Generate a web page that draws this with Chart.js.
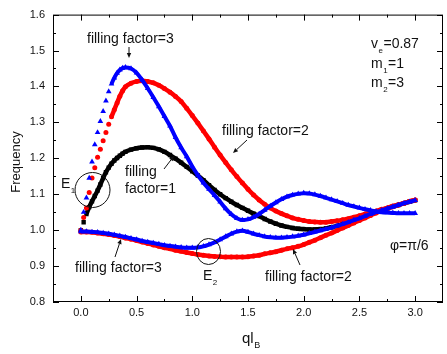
<!DOCTYPE html>
<html>
<head>
<meta charset="utf-8">
<script src="https://cdn.jsdelivr.net/npm/chart.js@4.4.1/dist/chart.umd.min.js"></script>
<style>
  html, body { margin: 0; padding: 0; background: #fff; }
  #wrap { width: 447px; height: 354px; }
</style>
</head>
<body>
<div id="wrap"><canvas id="chart" width="447" height="354"></canvas></div>
<script>
// ql_B grid for the upper branches (finer where the curves rise steeply)
const qFine = [0, 0.025, 0.05, 0.075, 0.1, 0.125, 0.15, 0.175, 0.2, 0.225, 0.25, 0.275, 0.3, 0.325, 0.35, 0.375, 0.4,
  0.45, 0.5, 0.55, 0.6, 0.65, 0.7, 0.75, 0.8, 0.85, 0.9, 0.95, 1.0,
  1.05, 1.1, 1.15, 1.2, 1.25, 1.3, 1.35, 1.4, 1.45, 1.5, 1.55, 1.6, 1.65, 1.7, 1.75, 1.8, 1.85, 1.9, 1.95, 2.0,
  2.05, 2.1, 2.15, 2.2, 2.25, 2.3, 2.35, 2.4, 2.45, 2.5, 2.55, 2.6, 2.65, 2.7, 2.75, 2.8, 2.85, 2.9, 2.95, 3.0];

// ql_B grid for the lower branches
const qGrid = [0, 0.05, 0.1, 0.15, 0.2, 0.25, 0.3, 0.35, 0.4, 0.45, 0.5, 0.55, 0.6, 0.65, 0.7, 0.75, 0.8, 0.85, 0.9, 0.95, 1.0,
  1.05, 1.1, 1.15, 1.2, 1.25, 1.3, 1.35, 1.4, 1.45, 1.5, 1.55, 1.6, 1.65, 1.7, 1.75, 1.8, 1.85, 1.9, 1.95, 2.0,
  2.05, 2.1, 2.15, 2.2, 2.25, 2.3, 2.35, 2.4, 2.45, 2.5, 2.55, 2.6, 2.65, 2.7, 2.75, 2.8, 2.85, 2.9, 2.95, 3.0];

// filling factor = 3, upper branch (blue triangles)
const ff3Upper = [1.000, 1.050, 1.090, 1.145, 1.190, 1.238, 1.272, 1.303, 1.331, 1.360, 1.386, 1.407, 1.424, 1.437, 1.446, 1.451, 1.453,
  1.450, 1.438, 1.418, 1.395, 1.370, 1.344, 1.317, 1.290, 1.258, 1.230, 1.205, 1.177,
  1.153, 1.132, 1.114, 1.097, 1.079, 1.060, 1.044, 1.033, 1.028, 1.030, 1.036, 1.045, 1.056, 1.067, 1.077, 1.086, 1.093, 1.098, 1.101, 1.103,
  1.102, 1.099, 1.095, 1.090, 1.085, 1.080, 1.075, 1.070, 1.066, 1.062, 1.058, 1.055, 1.052, 1.050, 1.049, 1.048, 1.047, 1.047, 1.047, 1.047];

// filling factor = 2, upper branch (red circles)
const ff2Upper = [1.000, 1.035, 1.062, 1.105, 1.145, 1.174, 1.203, 1.225, 1.249, 1.272, 1.295, 1.316, 1.335, 1.354, 1.373, 1.388, 1.399,
  1.409, 1.414, 1.416, 1.414, 1.410, 1.403, 1.394, 1.384, 1.372, 1.358, 1.339, 1.319,
  1.298, 1.276, 1.254, 1.231, 1.209, 1.188, 1.168, 1.149, 1.131, 1.114, 1.098, 1.084, 1.072, 1.062, 1.053, 1.046, 1.040, 1.034, 1.030, 1.027,
  1.024, 1.023, 1.022, 1.022, 1.024, 1.026, 1.029, 1.032, 1.036, 1.040, 1.045, 1.049, 1.053, 1.058, 1.062, 1.067, 1.071, 1.075, 1.080, 1.084];

// filling factor = 1 (black squares)
const ff1 = [1.000, 1.022, 1.045, 1.064, 1.080, 1.095, 1.110, 1.127, 1.145, 1.161, 1.174, 1.185, 1.194, 1.201, 1.207, 1.213, 1.218,
  1.224, 1.228, 1.230, 1.231, 1.229, 1.225, 1.218, 1.209, 1.199, 1.188, 1.176, 1.164,
  1.152, 1.139, 1.125, 1.112, 1.100, 1.089, 1.079, 1.070, 1.062, 1.054, 1.046, 1.039, 1.031, 1.024, 1.018, 1.013, 1.009, 1.006, 1.004, 1.003,
  1.002, 1.002, 1.003, 1.005, 1.008, 1.012, 1.017, 1.022, 1.028, 1.034, 1.040, 1.046, 1.051, 1.056, 1.061, 1.066, 1.070, 1.075, 1.079, 1.083];

// filling factor = 3, lower branch (blue triangles)
const ff3Lower = [0.996, 0.996, 0.995, 0.994, 0.992, 0.990, 0.987, 0.984, 0.981, 0.977, 0.974, 0.970, 0.967, 0.964, 0.961, 0.958, 0.956, 0.954, 0.952, 0.951, 0.951,
  0.952, 0.955, 0.960, 0.966, 0.974, 0.982, 0.990, 0.996, 0.998, 0.995, 0.990, 0.986, 0.982, 0.980, 0.979, 0.979, 0.980, 0.982, 0.984, 0.987,
  0.991, 0.995, 0.999, 1.003, 1.007, 1.012, 1.017, 1.022, 1.028, 1.033, 1.039, 1.045, 1.050, 1.055, 1.060, 1.065, 1.070, 1.075, 1.079, 1.083];

// filling factor = 2, lower branch (red circles)
const ff2Lower = [0.995, 0.995, 0.994, 0.992, 0.990, 0.988, 0.985, 0.982, 0.978, 0.975, 0.971, 0.967, 0.963, 0.959, 0.955, 0.951, 0.948, 0.944, 0.941, 0.938, 0.935,
  0.932, 0.930, 0.928, 0.927, 0.926, 0.925, 0.925, 0.925, 0.925, 0.926, 0.928, 0.930, 0.934, 0.937, 0.940, 0.944, 0.948, 0.951, 0.955, 0.960,
  0.966, 0.972, 0.979, 0.986, 0.992, 0.999, 1.006, 1.013, 1.020, 1.027, 1.034, 1.041, 1.048, 1.054, 1.060, 1.065, 1.070, 1.075, 1.080, 1.084];

const xTickVals = [0, 0.5, 1, 1.5, 2, 2.5, 3];
const yTickVals = [0.8, 0.9, 1.0, 1.1, 1.2, 1.3, 1.4, 1.5, 1.6];

const FONT = '"Liberation Sans", Arial, sans-serif';

function toPoints(xs, ys) {
  return xs.map((x, i) => ({ x: x, y: ys[i] }));
}

// hide the connecting line where the markers are spread out (steep rise)
function steepHidden(color) {
  return ctx => {
    const dx = Math.abs(ctx.p1.x - ctx.p0.x);
    const dy = Math.abs(ctx.p1.y - ctx.p0.y);
    return dy > 2.5 * dx ? 'rgba(0,0,0,0)' : color;
  };
}

function series(xs, ys, color, style, radius, width, order) {
  return {
    data: toPoints(xs, ys),
    showLine: true,
    borderColor: color,
    borderWidth: width,
    backgroundColor: color,
    pointStyle: style,
    pointRadius: radius,
    pointBorderWidth: 0,
    pointBackgroundColor: color,
    cubicInterpolationMode: 'monotone',
    segment: { borderColor: steepHidden(color) },
    order: order
  };
}

// frame and inward ticks on all four sides
const frameTicks = {
  id: 'frameTicks',
  afterDatasetsDraw(chart) {
    const { ctx, chartArea: a, scales: { x, y } } = chart;
    ctx.save();
    ctx.strokeStyle = '#000';
    ctx.lineWidth = 1;
    ctx.strokeRect(a.left + 0.5, a.top + 0.5, a.right - a.left - 1, a.bottom - a.top - 1);
    ctx.beginPath();
    xTickVals.forEach((v, i) => {
      const px = Math.round(x.getPixelForValue(v)) + 0.5;
      ctx.moveTo(px, a.bottom); ctx.lineTo(px, a.bottom - 6);
      ctx.moveTo(px, a.top); ctx.lineTo(px, a.top + 6);
      if (i < xTickVals.length - 1) {
        const pm = Math.round(x.getPixelForValue((v + xTickVals[i + 1]) / 2)) + 0.5;
        ctx.moveTo(pm, a.bottom); ctx.lineTo(pm, a.bottom - 3);
        ctx.moveTo(pm, a.top); ctx.lineTo(pm, a.top + 3);
      }
    });
    yTickVals.forEach((v, i) => {
      const py = Math.round(y.getPixelForValue(v)) + 0.5;
      ctx.moveTo(a.left, py); ctx.lineTo(a.left + 6, py);
      ctx.moveTo(a.right, py); ctx.lineTo(a.right - 6, py);
      if (i < yTickVals.length - 1) {
        const pm = Math.round(y.getPixelForValue((v + yTickVals[i + 1]) / 2)) + 0.5;
        ctx.moveTo(a.left, pm); ctx.lineTo(a.left + 3, pm);
        ctx.moveTo(a.right, pm); ctx.lineTo(a.right - 3, pm);
      }
    });
    ctx.stroke();
    ctx.restore();
  }
};

function arrow(ctx, x1, y1, x2, y2) {
  const ang = Math.atan2(y2 - y1, x2 - x1);
  const len = 5, half = 2.2;
  ctx.beginPath();
  ctx.moveTo(x1, y1);
  ctx.lineTo(x2 - Math.cos(ang) * len, y2 - Math.sin(ang) * len);
  ctx.stroke();
  ctx.beginPath();
  ctx.moveTo(x2, y2);
  ctx.lineTo(x2 - Math.cos(ang) * len - Math.sin(ang) * half, y2 - Math.sin(ang) * len + Math.cos(ang) * half);
  ctx.lineTo(x2 - Math.cos(ang) * len + Math.sin(ang) * half, y2 - Math.sin(ang) * len - Math.cos(ang) * half);
  ctx.closePath();
  ctx.fill();
}

// text with a subscript: base, sub, rest
function subText(ctx, base, sub, rest, x, y, size) {
  ctx.font = size + 'px ' + FONT;
  ctx.fillText(base, x, y);
  let cx = x + ctx.measureText(base).width;
  ctx.font = Math.round(size * 0.6) + 'px ' + FONT;
  ctx.fillText(sub, cx + 0.5, y + 5);
  cx += ctx.measureText(sub).width + 1;
  ctx.font = size + 'px ' + FONT;
  if (rest) ctx.fillText(rest, cx, y);
}

const annotations = {
  id: 'annotations',
  afterDraw(chart) {
    const ctx = chart.ctx;
    ctx.save();
    ctx.fillStyle = '#111';
    ctx.strokeStyle = '#111';
    ctx.lineWidth = 1;
    ctx.textBaseline = 'alphabetic';
    ctx.textAlign = 'left';
    ctx.font = '14px ' + FONT;

    ctx.fillText('filling factor=3', 87, 43);
    arrow(ctx, 129, 47, 129, 58);

    ctx.fillText('filling factor=2', 222, 135);
    arrow(ctx, 247, 140, 233, 153);

    ctx.fillText('filling', 125, 176);
    ctx.fillText('factor=1', 125, 193);
    arrow(ctx, 164, 169, 174, 156);

    ctx.fillText('filling factor=3', 75, 272);
    arrow(ctx, 115, 257, 121, 239);

    ctx.fillText('filling factor=2', 265, 281);
    arrow(ctx, 300, 265, 293, 249);

    ctx.fillText('\u03c6=\u03c0/6', 390, 250);

    subText(ctx, 'v', 'e', '=0.87', 371, 48, 14);
    subText(ctx, 'm', '1', '=1', 371, 68, 14);
    subText(ctx, 'm', '2', '=3', 371, 87, 14);

    // E1 and E2 markers
    ctx.beginPath();
    ctx.arc(92.5, 190, 17.5, 0, Math.PI * 2);
    ctx.stroke();
    subText(ctx, 'E', '1', '', 61, 188, 14);

    ctx.beginPath();
    ctx.ellipse(208.5, 251.5, 12, 13, 0, 0, Math.PI * 2);
    ctx.stroke();
    subText(ctx, 'E', '2', '', 203, 280, 14);

    // axis titles
    subText(ctx, 'ql', 'B', '', 242, 343, 15);
    ctx.save();
    ctx.translate(20, 162);
    ctx.rotate(-Math.PI / 2);
    ctx.textAlign = 'center';
    ctx.font = '13px ' + FONT;
    ctx.fillText('Frequency', 0, 0);
    ctx.restore();

    ctx.restore();
  }
};

new Chart(document.getElementById('chart'), {
  type: 'scatter',
  data: {
    datasets: [
      series(qFine, ff3Upper, '#0000ff', 'triangle', 3.3, 4, 0),
      series(qGrid, ff3Lower, '#0000ff', 'triangle', 3.3, 4, 0),
      series(qFine, ff2Upper, '#ff0000', 'circle', 2.5, 4.5, 1),
      series(qGrid, ff2Lower, '#ff0000', 'circle', 2.5, 4.5, 1),
      series(qFine, ff1, '#000000', 'rect', 3.1, 4.5, 2)
    ]
  },
  options: {
    responsive: false,
    animation: false,
    devicePixelRatio: 1,
    layout: { padding: { top: 10, right: 0, left: 0, bottom: 0 } },
    plugins: { legend: { display: false }, tooltip: { enabled: false } },
    scales: {
      x: {
        type: 'linear',
        min: -0.25,
        max: 3.25,
        grid: { display: false, drawTicks: false },
        border: { display: false },
        afterBuildTicks: s => { s.ticks = xTickVals.map(v => ({ value: v })); },
        afterFit: s => { s.height = 52; },
        ticks: {
          padding: 4,
          maxRotation: 0,
          color: '#111',
          font: { family: FONT, size: 11 },
          callback: v => Number(v).toFixed(1)
        }
      },
      y: {
        type: 'linear',
        min: 0.8,
        max: 1.6,
        grid: { display: false, drawTicks: false },
        border: { display: false },
        afterBuildTicks: s => { s.ticks = yTickVals.map(v => ({ value: v })); },
        afterFit: s => { s.width = 53; },
        ticks: {
          padding: 8,
          color: '#111',
          font: { family: FONT, size: 11 },
          callback: v => Number(v).toFixed(1)
        }
      }
    }
  },
  plugins: [frameTicks, annotations]
});
</script>
</body>
</html>
